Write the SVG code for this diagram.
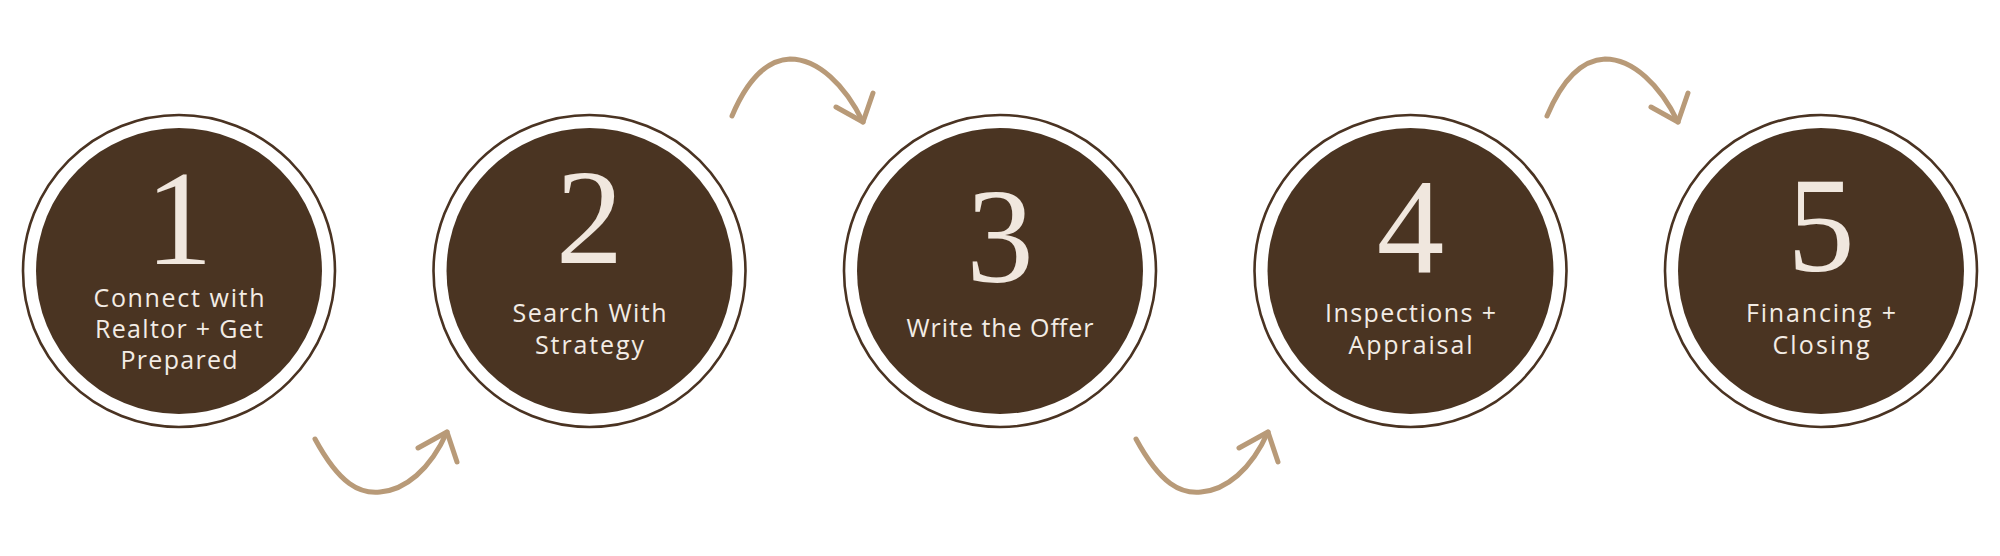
<svg xmlns="http://www.w3.org/2000/svg" width="2000" height="556" viewBox="0 0 2000 556">
<style>
.ring{fill:none;stroke:#4a3322;stroke-width:2.6}
.disc{fill:#4a3422}
.num{font-family:"Liberation Serif",serif;font-size:135px;fill:#f0e7de;text-anchor:middle}
.lbl{font-family:"Open Sans","Liberation Sans",sans-serif;font-size:25px;fill:#f3ece5;text-anchor:middle}
.arc{fill:none;stroke:#b89a78;stroke-width:5;stroke-linecap:round;stroke-linejoin:round}
</style>
<rect width="2000" height="556" fill="#ffffff"/>
<g id="connectors">
<g id="arrow-1-2">
<path class="arc" d="M315,439 C340,485 360,494 380,492 C405,490 430,470 447,432"/>
<path class="arc" d="M418,448 L447,432 L457,462"/>
</g>
<g id="arrow-2-3">
<path class="arc" d="M732,116 C748,78 768,60 790,59 C818,59 845,85 863,122"/>
<path class="arc" d="M836,107 L863,122 L873,93"/>
</g>
<g id="arrow-3-4" transform="translate(821,0)">
<path class="arc" d="M315,439 C340,485 360,494 380,492 C405,490 430,470 447,432"/>
<path class="arc" d="M418,448 L447,432 L457,462"/>
</g>
<g id="arrow-4-5" transform="translate(815,0)">
<path class="arc" d="M732,116 C748,78 768,60 790,59 C818,59 845,85 863,122"/>
<path class="arc" d="M836,107 L863,122 L873,93"/>
</g>
</g>
<g id="step1">
<circle class="ring" cx="179" cy="271" r="156"/>
<circle class="disc" cx="179" cy="271" r="143"/>
<text class="num" x="179" y="264">1</text>
<text class="lbl" x="179" y="307" textLength="171" lengthAdjust="spacing">Connect with</text>
<text class="lbl" x="179" y="338" textLength="168" lengthAdjust="spacing">Realtor + Get</text>
<text class="lbl" x="179" y="369" textLength="117" lengthAdjust="spacing">Prepared</text>
</g>
<g id="step2">
<circle class="ring" cx="589.5" cy="271" r="156"/>
<circle class="disc" cx="589.5" cy="271" r="143"/>
<text class="num" x="589.5" y="263">2</text>
<text class="lbl" x="589.5" y="322" textLength="154" lengthAdjust="spacing">Search With</text>
<text class="lbl" x="589.5" y="354" textLength="109" lengthAdjust="spacing">Strategy</text>
</g>
<g id="step3">
<circle class="ring" cx="1000" cy="271" r="156"/>
<circle class="disc" cx="1000" cy="271" r="143"/>
<text class="num" x="1000" y="282">3</text>
<text class="lbl" x="1000" y="337" textLength="187" lengthAdjust="spacing">Write the Offer</text>
</g>
<g id="step4">
<circle class="ring" cx="1410.5" cy="271" r="156"/>
<circle class="disc" cx="1410.5" cy="271" r="143"/>
<text class="num" x="1410.5" y="273">4</text>
<text class="lbl" x="1410.5" y="322" textLength="171" lengthAdjust="spacing">Inspections +</text>
<text class="lbl" x="1410.5" y="354" textLength="124" lengthAdjust="spacing">Appraisal</text>
</g>
<g id="step5">
<circle class="ring" cx="1821" cy="271" r="156"/>
<circle class="disc" cx="1821" cy="271" r="143"/>
<text class="num" x="1821" y="271">5</text>
<text class="lbl" x="1821" y="322" textLength="150" lengthAdjust="spacing">Financing +</text>
<text class="lbl" x="1821" y="354" textLength="97" lengthAdjust="spacing">Closing</text>
</g>
</svg>
